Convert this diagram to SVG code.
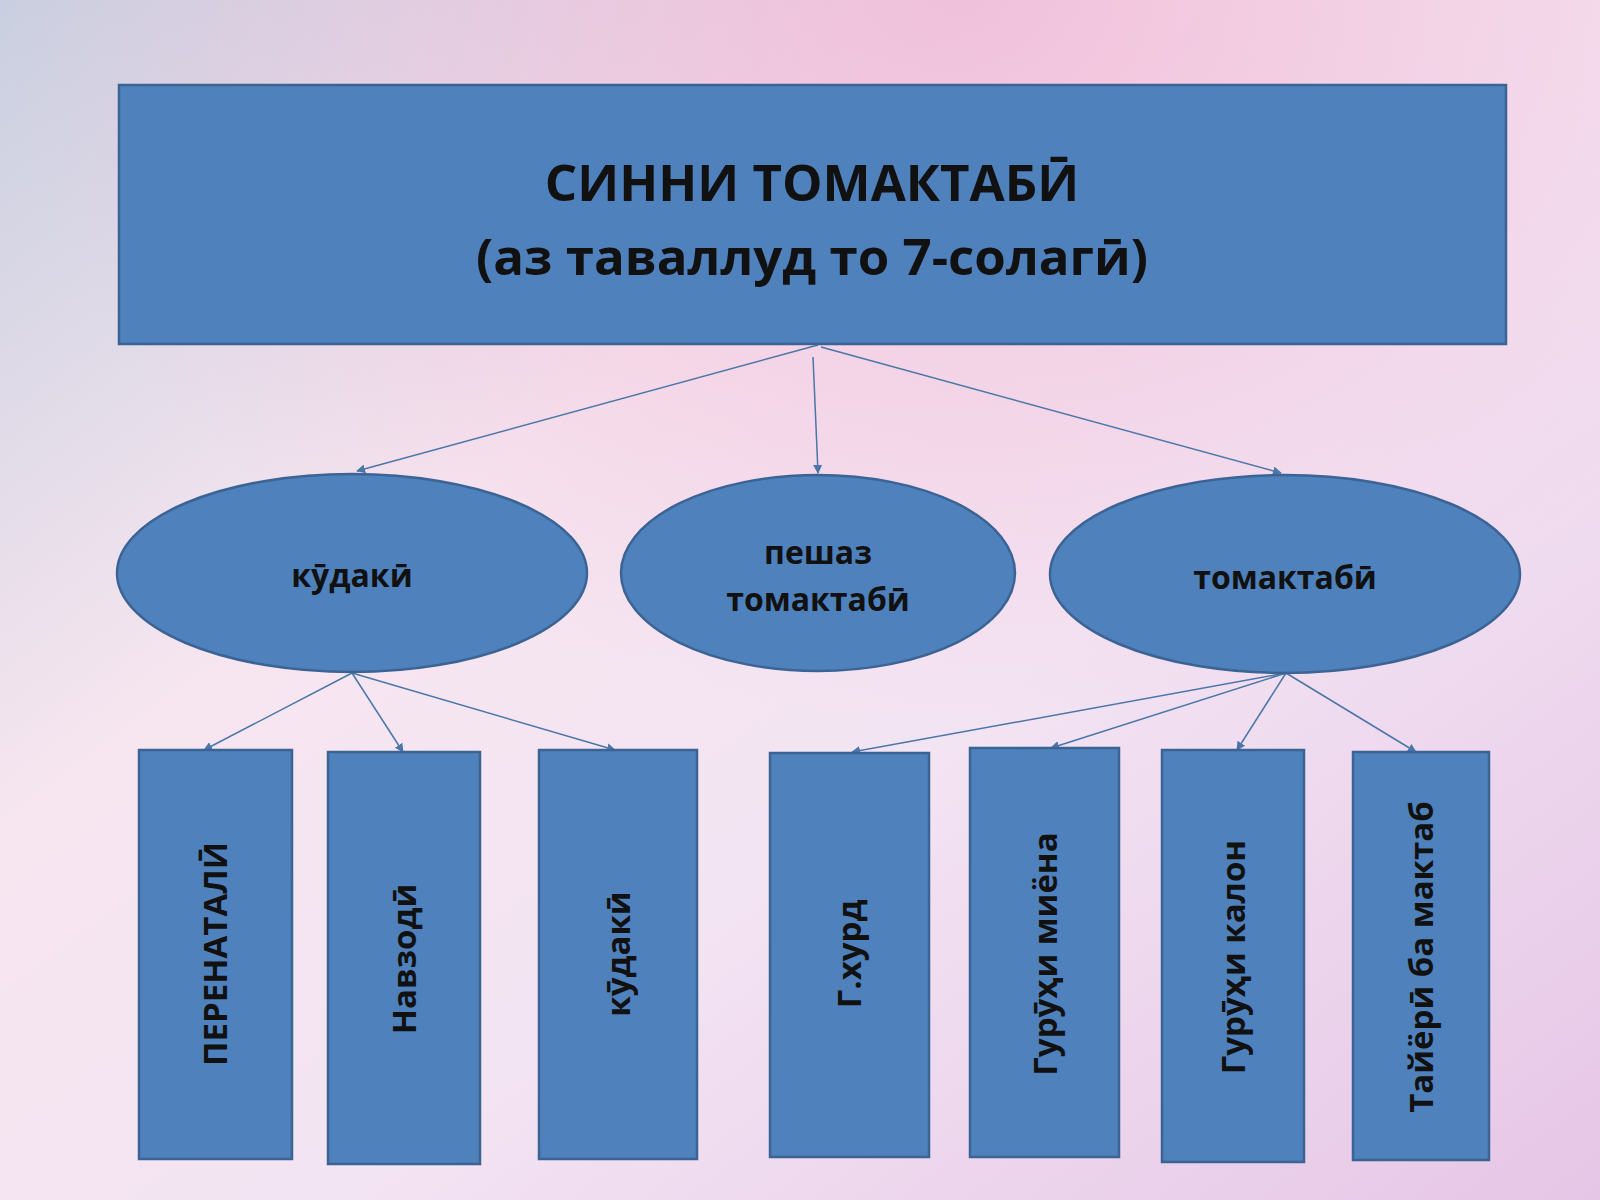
<svg xmlns="http://www.w3.org/2000/svg" width="1600" height="1200" viewBox="0 0 1600 1200">
<defs>
<linearGradient id="bg" x1="0" y1="0" x2="1" y2="1">
<stop offset="0" stop-color="#c9cfe0"/>
<stop offset="0.35" stop-color="#f7e6f0"/>
<stop offset="0.6" stop-color="#f3e4f3"/>
<stop offset="1" stop-color="#e6c6e6"/>
</linearGradient>
<radialGradient id="rg" cx="0.6" cy="0" r="0.6">
<stop offset="0" stop-color="#f0b8d6" stop-opacity="0.8"/>
<stop offset="1" stop-color="#f0b8d6" stop-opacity="0"/>
</radialGradient>
<marker id="ah" viewBox="0 0 10 10" refX="9" refY="5" markerWidth="6" markerHeight="6" orient="auto">
<path d="M0,0 L10,5 L0,10 z" fill="#4a76a8"/>
</marker>
<style>
.n{fill:#4f81bd;stroke:#3b6394;stroke-width:2.5}
.t{font-family:"Open Sans","DejaVu Sans",sans-serif;font-weight:bold;fill:#111;text-anchor:middle}
.c{stroke:#4a76a8;stroke-width:1.5;fill:none;marker-end:url(#ah)}
</style>
</defs>
<rect width="1600" height="1200" fill="url(#bg)"/>
<rect width="1600" height="1200" fill="url(#rg)"/>
<g id="connectors">
<line class="c" x1="818" y1="345" x2="357" y2="471"/>
<line class="c" x1="813" y1="357" x2="818" y2="473"/>
<line class="c" x1="821" y1="347" x2="1281" y2="473"/>
<line class="c" x1="352" y1="673" x2="204" y2="750"/>
<line class="c" x1="352" y1="673" x2="403" y2="752"/>
<line class="c" x1="352" y1="673" x2="615" y2="750"/>
<line class="c" x1="1286" y1="673" x2="852" y2="752"/>
<line class="c" x1="1286" y1="673" x2="1051" y2="748"/>
<line class="c" x1="1286" y1="673" x2="1237" y2="750"/>
<line class="c" x1="1286" y1="673" x2="1416" y2="752"/>
</g>
<g id="top"><rect class="n" x="119" y="85" width="1387" height="259"/>
<text class="t" x="812" y="201" font-size="51">СИННИ ТОМАКТАБӢ</text>
<text class="t" x="812" y="275" font-size="51">(аз таваллуд то 7-солагӣ)</text></g>
<g id="e1"><ellipse class="n" cx="352" cy="573" rx="235" ry="99"/><text class="t" x="352" y="587" font-size="32">кӯдакӣ</text></g>
<g id="e2"><ellipse class="n" cx="818" cy="573" rx="197" ry="98"/><text class="t" x="818" y="564" font-size="32">пешаз</text><text class="t" x="818" y="611" font-size="32">томактабӣ</text></g>
<g id="e3"><ellipse class="n" cx="1285" cy="574" rx="235" ry="99"/><text class="t" x="1285" y="589" font-size="32">томактабӣ</text></g>
<g id="r1"><rect class="n" x="139" y="750" width="153" height="409"/><text class="t" font-size="33" transform="translate(227,954) rotate(-90)">ПЕРЕНАТАЛӢ</text></g>
<g id="r2"><rect class="n" x="328" y="752" width="152" height="412"/><text class="t" font-size="33" transform="translate(416,959) rotate(-90)">Навзодӣ</text></g>
<g id="r3"><rect class="n" x="539" y="750" width="158" height="409"/><text class="t" font-size="33" transform="translate(630,954) rotate(-90)">кӯдакӣ</text></g>
<g id="r4"><rect class="n" x="770" y="753" width="159" height="404"/><text class="t" font-size="33" transform="translate(861,954) rotate(-90)">Г.хурд</text></g>
<g id="r5"><rect class="n" x="970" y="748" width="149" height="409"/><text class="t" font-size="33" transform="translate(1057,954) rotate(-90)">Гурӯҳи миёна</text></g>
<g id="r6"><rect class="n" x="1162" y="750" width="142" height="412"/><text class="t" font-size="33" transform="translate(1245,957) rotate(-90)">Гурӯҳи калон</text></g>
<g id="r7"><rect class="n" x="1353" y="752" width="136" height="408"/><text class="t" font-size="33" transform="translate(1433,957) rotate(-90)">Тайёрӣ ба мактаб</text></g>
</svg>
